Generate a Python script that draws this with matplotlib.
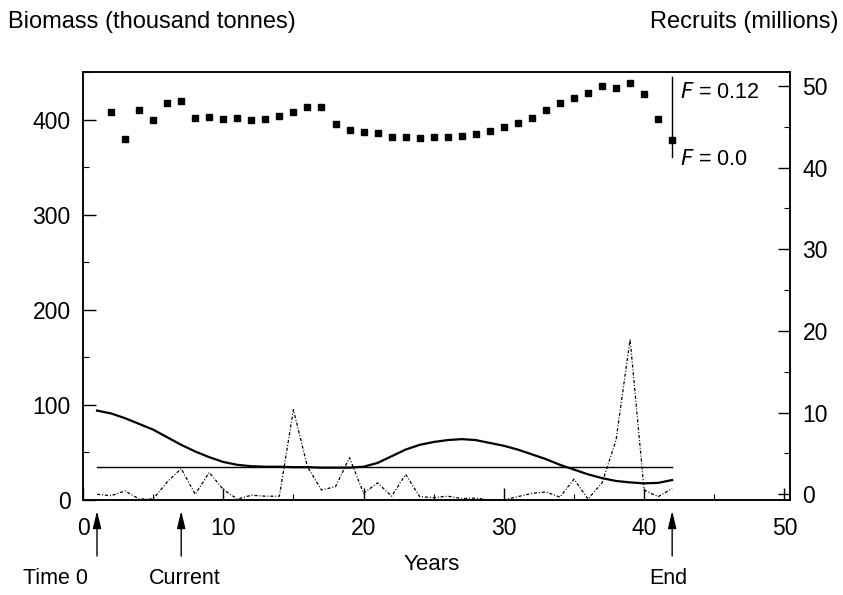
import matplotlib
matplotlib.use("Agg")
import matplotlib.pyplot as plt
from matplotlib.ticker import MultipleLocator

plt.rcParams["font.family"] = ["Liberation Sans", "DejaVu Sans"]

# 数据：估计值
sq_years = list(range(2, 43))
sq_biomass = [408, 380, 410, 400, 417, 420, 402, 403, 401, 402,
              400, 401, 404, 408, 413, 413, 395, 389, 387, 386,
              382, 382, 381, 382, 382, 383, 385, 388, 392, 396,
              402, 410, 417, 423, 428, 435, 433, 438, 427, 401, 378]

line_years = list(range(1, 43))
biomass_curve = [94, 91, 86, 80, 74, 66, 58, 51, 45, 40,
                 37, 35.5, 35, 35, 34.5, 34.5, 34, 34, 34, 35,
                 39, 46, 53, 58, 61, 63, 64, 63, 60, 57,
                 53, 48, 43, 37, 32, 27, 23, 20, 18.5, 17.5, 18, 21]
reference_level = [35] * len(line_years)
recruits = [6, 4.5, 9.5, 1, 1, 19, 33, 6, 29, 11,
            1, 5, 4, 4, 95, 35, 10.5, 14, 44.5, 7,
            18, 4, 27, 3.5, 2.5, 4, 1.5, 2, 0, 0,
            3.5, 7, 8.5, 3, 22, 1, 18, 63, 169, 10.5, 3.5, 12]

f_year = 42
f_span = [361, 445]
f_labels = [("0.12", 428), ("0.0", 358)]

markers = [(1, "Time 0"), (7, "Current"), (42, "End")]
label_x_px = [56, 185, 668]

W, H = 843, 595
fig = plt.figure(figsize=(W / 100, H / 100), dpi=100)
ax = fig.add_axes([83 / W, 1 - 500 / H, (790 - 83) / W, (500 - 72) / H])
ax2 = ax.twinx()

ax.plot(sq_years, sq_biomass, ls="none", marker="s", ms=4.3, color="black")
ax.plot(line_years, biomass_curve, color="black", lw=1.6)
ax.plot(line_years, reference_level, color="black", lw=1.0)
ax.plot(line_years, recruits, color="black", lw=0.9,
        ls=(0, (2.5, 1.5, 0.8, 1.5)))
ax.plot([f_year, f_year], f_span, color="black", lw=1.0)
for val, y in f_labels:
    ax.text(f_year + 0.55, y, "$\\it{F}$ = " + val, fontsize=15.5, va="center")

ax.set_xlim(0, 50.4)
ax.set_ylim(0, 450)
ax2.set_ylim(-0.7, 51.7)

ax.xaxis.set_major_locator(MultipleLocator(10))
ax.xaxis.set_minor_locator(MultipleLocator(5))
ax.yaxis.set_major_locator(MultipleLocator(100))
ax.yaxis.set_minor_locator(MultipleLocator(50))
ax2.yaxis.set_major_locator(MultipleLocator(10))
ax2.yaxis.set_minor_locator(MultipleLocator(5))

ax.tick_params(axis="both", which="major", direction="in", length=9, width=1,
               labelsize=16.5)
ax.tick_params(axis="both", which="minor", direction="in", length=4, width=0.8)
ax.tick_params(axis="x", pad=12)
ax.tick_params(axis="y", pad=9)
ax2.tick_params(which="major", direction="in", length=9, width=1, labelsize=16.5, pad=9)
ax2.tick_params(which="minor", direction="in", length=4, width=0.8)

for a in (ax, ax2):
    for s in a.spines.values():
        s.set_linewidth(1.1)

fig.text(8 / W, 1 - 22 / H, "Biomass (thousand tonnes)", fontsize=17,
         ha="left", va="center")
fig.text(838 / W, 1 - 22 / H, "Recruits (millions)", fontsize=17,
         ha="right", va="center")
fig.text(432 / W, 1 - 565 / H, "Years", fontsize=16, ha="center", va="center")

for (yr, name), lx in zip(markers, label_x_px):
    ax.annotate("", xy=(yr, 1 - 511 / H), xytext=(yr, 1 - 556 / H),
                xycoords=("data", "figure fraction"),
                textcoords=("data", "figure fraction"),
                arrowprops=dict(arrowstyle="-|>,head_length=0.7,head_width=0.17",
                                mutation_scale=15, lw=1, color="black",
                                shrinkA=0, shrinkB=0),
                annotation_clip=False)
    fig.text(lx / W, 1 - 579 / H, name, fontsize=15.5, ha="center", va="center")

fig.savefig("out.png", dpi=100)
